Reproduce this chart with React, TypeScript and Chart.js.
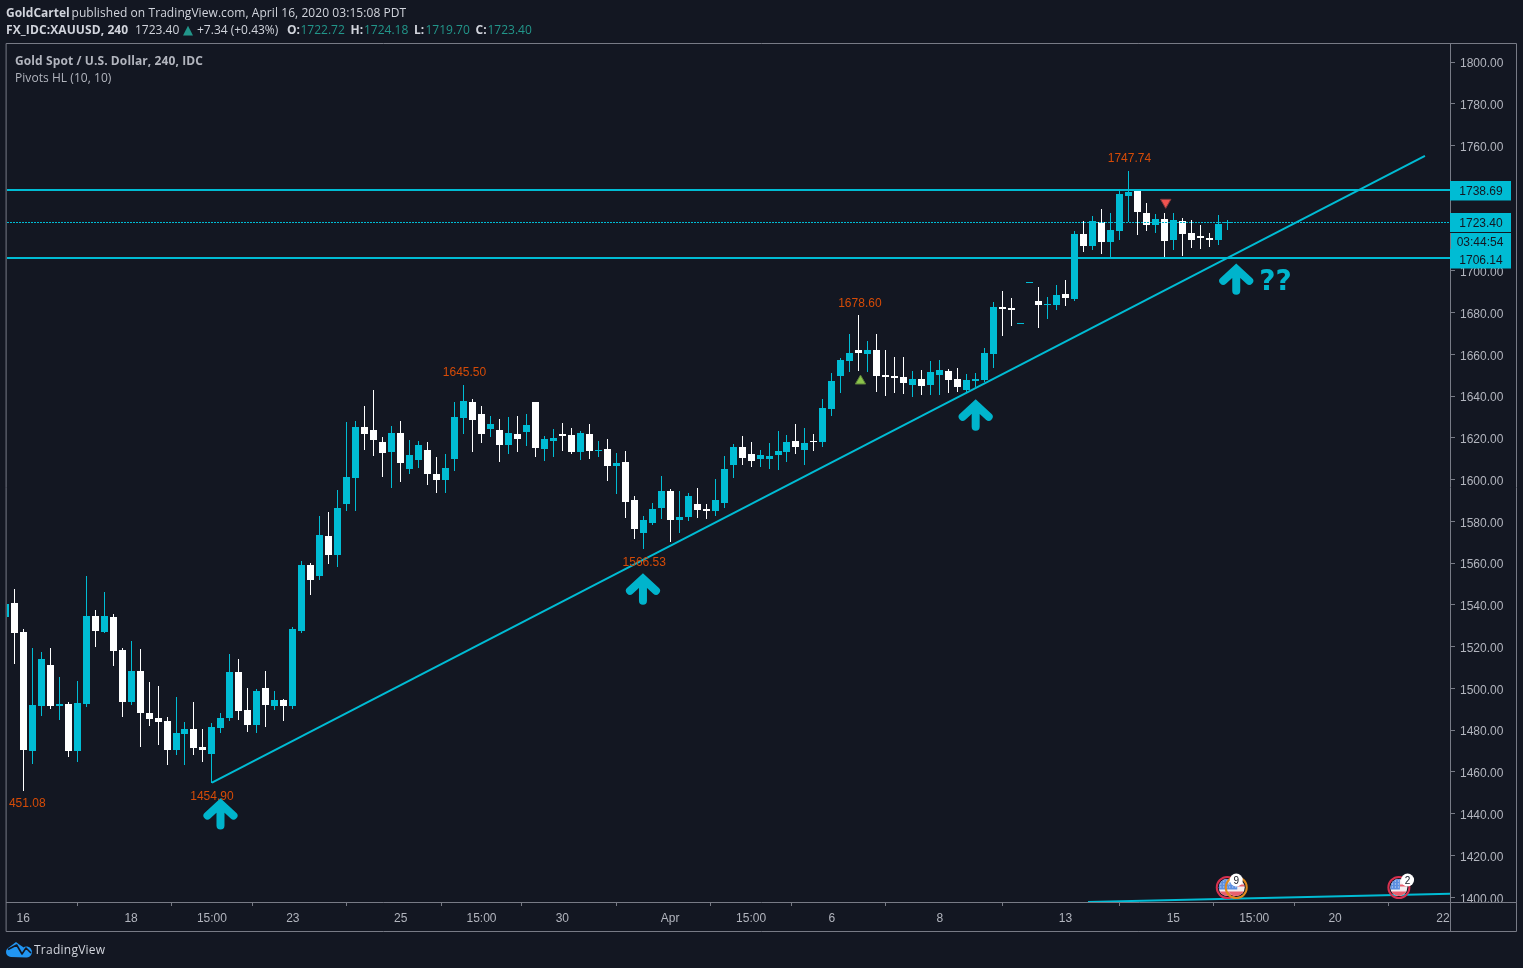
import React, { useEffect, useRef } from "react";
import { Chart, registerables } from "chart.js";

Chart.register(...registerables);

// Candles, oldest first (USD per ounce)
const opens = [1534.3,1541.0,1527.1,1470.2,1491.7,1511.3,1491.7,1492.7,1470.2,1492.7,1534.8,1527.1,1534.3,1518.5,1493.6,1508.5,1488.3,1485.9,1484.5,1470.6,1478.3,1480.7,1472.1,1468.7,1481.2,1485.9,1508.0,1489.8,1482.6,1500.3,1491.7,1494.6,1491.7,
1527.6,1559.2,1554.0,1573.1,1564.0,1588.4,1600.9,1625.3,1623.8,1618.1,1613.3,1622.4,1605.2,1609.5,1614.3,1602.8,1599.9,1610.0,1629.6,1637.2,1631.5,1624.3,1623.8,1616.7,1622.0,1622.9,1637.2,1614.7,1618.6,1622.0,1621.4,1613.3,1622.0,1613.8,1614.7,1606.6,1608.5,1590.3,1574.5,1579.3,1586.5,1594.6,1580.8,1582.2,1588.4,1586.0,1585.1,1588.9,1607.1,1615.7,1612.3,1610.0,1610.0,1611.9,1613.3,1618.6,1614.3,1618.6,1618.1,1633.9,1649.6,1656.8,1662.1,1660.2,1662.1,1650.1,1649.6,1649.2,1645.3,1648.2,1645.3,1650.1,1652.0,1648.2,1642.9,1647.3,1647.7,1660.2,1682.7,1682.2,1674.7,1694.3,1685.6,1683.6,1683.6,1688.9,1686.5,1717.7,1711.9,1723.4,1713.9,1719.1,1735.9,1738.3,1727.7,1722.0,1724.9,1714.8,1723.9,1718.2,1716.7,1715.8,1714.8,1722.72];
const highs = [1541.0,1547.7,1528.6,1519.5,1517.6,1519.5,1505.6,1493.6,1503.7,1553.9,1537.7,1546.3,1535.7,1519.5,1522.8,1519.0,1503.2,1501.3,1486.4,1496.0,1484.0,1493.6,1480.7,1483.6,1488.3,1516.6,1514.2,1500.3,1499.8,1508.5,1498.9,1495.0,1529.5,
1561.1,1560.2,1582.7,1584.6,1595.1,1627.7,1628.2,1635.3,1643.0,1620.5,1625.8,1628.2,1619.0,1618.6,1618.1,1610.9,1612.3,1637.2,1645.5,1638.7,1635.3,1630.5,1629.1,1630.1,1630.5,1631.5,1637.2,1621.0,1624.3,1627.2,1624.8,1623.4,1626.7,1618.6,1619.5,1612.8,1613.8,1592.2,1582.7,1588.9,1601.8,1595.6,1594.6,1593.7,1596.1,1588.4,1600.4,1611.4,1617.2,1621.0,1618.1,1614.3,1617.6,1623.4,1621.4,1626.7,1624.8,1622.0,1638.7,1651.1,1658.3,1669.8,1678.6,1666.4,1669.8,1662.1,1658.7,1658.7,1652.0,1652.5,1656.8,1657.3,1653.0,1653.5,1650.6,1651.1,1663.1,1685.1,1690.3,1687.0,1675.1,1694.7,1692.3,1687.5,1693.2,1695.6,1719.1,1723.9,1726.3,1729.6,1727.7,1738.3,1747.74,1738.3,1732.5,1727.2,1727.7,1727.7,1725.3,1724.4,1722.0,1718.2,1726.8,1724.18];
const lows = [1534.3,1511.8,1451.08,1463.9,1486.9,1490.3,1485.0,1467.3,1464.9,1491.2,1519.9,1526.6,1510.8,1486.4,1492.2,1472.1,1482.1,1473.0,1463.4,1468.2,1463.4,1468.2,1464.9,1454.9,1478.8,1484.5,1485.0,1479.2,1478.8,1481.6,1489.8,1484.5,1490.3,
1526.5,1544.9,1552.1,1559.7,1558.3,1585.1,1585.1,1614.3,1611.4,1601.4,1596.1,1598.9,1602.8,1605.6,1597.5,1593.7,1593.7,1604.2,1622.0,1613.3,1617.6,1620.5,1608.5,1612.3,1613.3,1616.2,1610.9,1609.0,1610.9,1613.8,1612.3,1609.5,1610.0,1610.9,1599.4,1593.2,1581.7,1571.6,1566.53,1578.4,1581.2,1570.2,1574.5,1580.3,1581.7,1581.2,1582.7,1586.5,1600.9,1607.1,1606.1,1606.1,1605.2,1604.7,1608.5,1612.3,1607.1,1613.8,1615.7,1630.5,1641.5,1651.6,1652.0,1651.6,1642.0,1640.1,1641.5,1641.0,1639.6,1640.5,1640.5,1640.5,1641.5,1642.0,1642.0,1644.4,1646.8,1653.5,1668.8,1673.6,1674.7,1694.3,1672.6,1676.9,1681.2,1683.2,1685.6,1709.1,1710.0,1708.1,1706.7,1714.8,1723.4,1717.2,1719.1,1718.2,1706.7,1710.0,1707.1,1711.0,1710.5,1711.5,1712.4,1719.70];
const closes = [1540.5,1526.6,1470.6,1492.2,1514.2,1491.7,1492.7,1470.2,1493.1,1534.8,1527.6,1534.8,1518.0,1493.6,1508.5,1488.3,1485.5,1484.0,1470.6,1478.8,1480.7,1471.6,1470.6,1481.6,1485.9,1508.0,1489.3,1482.6,1498.9,1492.2,1494.6,1491.7,1528.6,
1559.2,1552.1,1573.6,1564.0,1586.5,1601.4,1625.3,1622.0,1619.0,1612.8,1622.4,1608.0,1611.9,1616.7,1602.8,1599.9,1605.6,1630.1,1637.7,1628.6,1622.0,1626.7,1616.7,1622.4,1619.5,1626.2,1615.2,1619.5,1620.0,1621.0,1613.3,1622.4,1613.8,1614.3,1606.6,1608.0,1589.4,1576.4,1580.8,1586.0,1594.6,1580.8,1582.2,1592.2,1585.5,1585.1,1590.3,1605.2,1615.7,1610.4,1609.0,1611.9,1611.4,1613.8,1618.1,1615.7,1617.6,1618.1,1634.4,1647.3,1657.3,1660.7,1660.7,1662.1,1649.6,1649.2,1648.7,1646.3,1648.2,1644.9,1651.6,1652.5,1647.7,1644.4,1647.7,1648.2,1660.7,1682.7,1681.7,1681.2,1675.1,1694.7,1683.6,1684.1,1688.4,1687.0,1717.7,1711.9,1723.9,1713.9,1719.6,1736.8,1737.8,1728.2,1722.0,1724.9,1714.3,1724.4,1717.7,1714.8,1715.8,1714.8,1722.5,1723.40];

const xTickIndex = [2, 14, 23, 32, 44, 53, 62, 74, 83, 92, 104, 118, 130, 139, 148, 160];
const xTickLabels = ["16", "18", "15:00", "23", "25", "15:00", "30", "Apr", "15:00", "6", "8", "13", "15", "15:00", "20", "22"];
const yTicks = [1400,1420,1440,1460,1480,1500,1520,1540,1560,1580,1600,1620,1640,1660,1680,1700,1720,1740,1760,1780,1800];

const X_MIN = 0.19;
const X_MAX = 160.79;
const Y_MIN = 1397.7;
const Y_MAX = 1809.1;

const resistance = 1738.69;
const support = 1706.14;
const lastPrice = 1723.4;
const trendA = [{ x: 23, y: 1454.9 }, { x: 158, y: 1755 }];
const trendB = [{ x: 120.5, y: 1397.7 }, { x: 160.79, y: 1401.7 }];
const upMarker = [{ x: 95.18, y: 1647.2 }];
const downMarker = [{ x: 129.15, y: 1732.8 }];

const pivotLabels = [
  { i: 125, p: 1747.74, text: "1747.74", dy: -12, dx: 1 },
  { i: 95, p: 1678.6, text: "1678.60", dy: -12, dx: 1 },
  { i: 51, p: 1645.5, text: "1645.50", dy: -12, dx: 1 },
  { i: 71, p: 1566.53, text: "1566.53", dy: 13.5, dx: 1 },
  { i: 23, p: 1454.9, text: "1454.90", dy: 14, dx: 0 },
  { i: 2, p: 1451.08, text: "451.08", dy: 13.5, dx: 4 },
];
const arrowTips = [
  { x: 23.95, y: 1447.7 },
  { x: 70.97, y: 1555.4 },
  { x: 108, y: 1638.7 },
  { x: 137, y: 1703.8 },
];
const priceTags = [
  { text: "1738.69", p: 1738.69, dy: 2 },
  { text: "1723.40", p: 1723.4, dy: 2 },
  { text: "03:44:54", p: 1713.9, dy: 1 },
  { text: "1706.14", p: 1706.14, dy: 3 },
];
const events = [
  { x: 136, ring: "#d8314f", badge: "" },
  { x: 137, ring: "#e08a1e", badge: "9" },
  { x: 155.1, ring: "#d8314f", badge: "2" },
];

const CYAN = "#00bcd4";
const WHITE = "#ffffff";
const BG = "#131722";
const FRAME = "#787b86";
const TEXT = "#b2b5be";
const ORANGE = "#d64b07";
const UI = '"Open Sans", sans-serif';
const NUM = '"Liberation Sans", Arial, sans-serif';

const candleColors = opens.map((o, i) => (closes[i] >= o ? CYAN : WHITE));
const index = opens.map((_, i) => i);

const crispBars = {
  id: "crispBars",
  afterDatasetsUpdate(chart: any) {
    chart.data.datasets.forEach((ds: any, k: number) => {
      const pts = chart.getDatasetMeta(k).data;
      if (ds.type === "bar") {
        pts.forEach((el: any) => {
          el.x = Math.floor(el.x) + 0.5;
          const top = Math.round(Math.min(el.y, el.base));
          let bot = Math.round(Math.max(el.y, el.base));
          if (bot === top) bot = top + 1;
          el.y = top;
          el.base = bot;
          el.height = bot - top;
        });
      } else if (ds.snap === "half") {
        pts.forEach((el: any) => { el.x = Math.round(el.x); el.y = Math.round(el.y) + 0.5; });
      } else if (ds.snap === "whole") {
        pts.forEach((el: any) => { el.y = Math.round(el.y); });
      }
    });
  },
};

const flag = (c: CanvasRenderingContext2D, cx: number, cy: number) => {
  c.save();
  c.beginPath();
  c.arc(cx, cy, 8.5, 0, Math.PI * 2);
  c.clip();
  c.fillStyle = "#f4eef0";
  c.fillRect(cx - 9, cy - 9, 18, 18);
  c.fillStyle = "#e9606e";
  c.fillRect(cx - 9, cy + 4, 18, 6);
  c.fillRect(cx + 1, cy - 3, 9, 2);
  c.fillStyle = "#5b8fe0";
  c.fillRect(cx - 9, cy - 9, 10, 11);
  c.fillStyle = "#dfe8f8";
  for (let a = -7; a < 1; a += 3) for (let b = -7; b < 2; b += 3) c.fillRect(cx + a, cy + b, 1, 1);
  c.restore();
};

const overlay = {
  id: "overlay",
  beforeDraw(chart: any) {
    const c = chart.ctx;
    c.save();
    c.fillStyle = BG;
    c.fillRect(0, 0, chart.width, chart.height);
    c.restore();
  },
  afterDraw(chart: any) {
    const c: CanvasRenderingContext2D = chart.ctx;
    const sx = chart.scales.x;
    const sy = chart.scales.y;
    const area = chart.chartArea;
    c.save();

    // pivot values
    c.font = `12px ${NUM}`;
    c.textAlign = "center";
    c.textBaseline = "middle";
    c.fillStyle = ORANGE;
    pivotLabels.forEach((l) => {
      c.fillText(l.text, sx.getPixelForValue(l.i) + l.dx, sy.getPixelForValue(l.p) + l.dy);
    });

    // hand-drawn arrows
    c.strokeStyle = "#00b4cc";
    c.lineWidth = 8;
    c.lineCap = "round";
    c.lineJoin = "miter";
    arrowTips.forEach((a) => {
      const x = sx.getPixelForValue(a.x);
      const y = sy.getPixelForValue(a.y);
      c.beginPath();
      c.moveTo(x - 13, y + 18);
      c.lineTo(x, y + 6);
      c.lineTo(x + 13, y + 18);
      c.moveTo(x, y + 8);
      c.lineTo(x, y + 28);
      c.stroke();
    });
    c.fillStyle = "#00b4cc";
    c.font = 'bold 28px "DejaVu Sans", sans-serif';
    c.textAlign = "left";
    c.textBaseline = "alphabetic";
    const last = arrowTips[arrowTips.length - 1];
    c.fillText("??", sx.getPixelForValue(last.x) + 23, sy.getPixelForValue(last.y) + 27);

    // economic event badges
    const evY = area.bottom - 14.5;
    events.forEach((e) => {
      const x = sx.getPixelForValue(e.x);
      flag(c, x, evY);
      c.beginPath();
      c.arc(x, evY, 10.5, 0, Math.PI * 2);
      c.strokeStyle = e.ring;
      c.lineWidth = 2;
      c.stroke();
    });
    events.forEach((e, k) => {
      if (!e.badge) return;
      const x = sx.getPixelForValue(e.x) + (k === 2 ? 8.7 : 0);
      c.beginPath();
      c.arc(x, evY - 7.5, 6.5, 0, Math.PI * 2);
      c.fillStyle = "#ffffff";
      c.fill();
      c.fillStyle = "#131722";
      c.font = `10px ${NUM}`;
      c.textAlign = "center";
      c.textBaseline = "middle";
      c.fillText(e.badge, x, evY - 6.5);
    });

    // frame
    c.strokeStyle = FRAME;
    c.lineWidth = 1;
    c.beginPath();
    c.rect(6.5, 43.5, 1510, 888);
    c.moveTo(area.right + 0.5, 43.5);
    c.lineTo(area.right + 0.5, 931.5);
    c.moveTo(6.5, area.bottom + 0.5);
    c.lineTo(1516.5, area.bottom + 0.5);
    c.stroke();

    // price tags on the right axis
    c.font = `12px ${NUM}`;
    c.textAlign = "center";
    c.textBaseline = "middle";
    priceTags.forEach((t, k) => {
      const y = Math.round(sy.getPixelForValue(t.p));
      c.fillStyle = CYAN;
      const inset = k === 2 ? 1 : 0;
      c.fillRect(area.right + inset, y - 9, 61 - inset, 19.5);
      c.fillStyle = "#131722";
      c.fillText(t.text, area.right + (k === 2 ? 30 : 31), y + t.dy);
    });
    const sep = Math.round(sy.getPixelForValue(lastPrice)) + 10;
    c.fillStyle = "#131722";
    c.fillRect(area.right, sep, 61, 1);

    // TradingView mark
    c.fillStyle = "#2196f3";
    c.beginPath();
    c.arc(11, 952, 5, Math.PI / 2, Math.PI * 1.25);
    c.lineTo(16, 942);
    c.lineTo(20, 945);
    c.lineTo(23, 947);
    c.arc(26.5, 952, 5.5, -Math.PI * 0.7, Math.PI / 2);
    c.closePath();
    c.fill();
    c.strokeStyle = BG;
    c.lineWidth = 1.6;
    c.lineCap = "butt";
    c.lineJoin = "round";
    c.beginPath();
    c.moveTo(8, 949.5);
    c.lineTo(16.7, 945);
    c.lineTo(22, 954);
    c.lineTo(26, 948);
    c.lineTo(31, 953);
    c.stroke();
    c.restore();
  },
};

const divBase: React.CSSProperties = {
  position: "absolute",
  whiteSpace: "nowrap",
  fontFamily: UI,
  fontSize: 12,
  lineHeight: "16px",
  color: "#d1d4dc",
};
const green: React.CSSProperties = { color: "#22968a" };

const seg = (left: number, text: string, extra?: React.CSSProperties) => (
  <div style={{ ...divBase, left, top: 22, ...extra }}>{text}</div>
);

export default function App() {
  const ref = useRef<HTMLCanvasElement>(null);
  useEffect(() => {
    document.body.style.margin = "0";
    document.body.style.background = BG;
    const chart = new Chart(ref.current!, {
      type: "bar",
      plugins: [crispBars, overlay],
      data: {
        datasets: [
          {
            type: "bar",
            label: "wicks",
            data: index.map((i) => ({ x: i, y: [lows[i], highs[i]] })),
            backgroundColor: candleColors,
            barThickness: 1,
            grouped: false,
            inflateAmount: 0,
            order: 5,
          },
          {
            type: "bar",
            label: "bodies",
            data: index.map((i) => ({ x: i, y: [opens[i], closes[i]] })),
            backgroundColor: candleColors,
            barThickness: 7,
            grouped: false,
            inflateAmount: 0,
            order: 4,
          },
          {
            type: "line",
            label: "last",
            snap: "half",
            data: [{ x: X_MIN, y: lastPrice }, { x: X_MAX, y: lastPrice }],
            borderColor: CYAN,
            borderWidth: 1,
            borderDash: [2, 1],
            pointRadius: 0,
            order: 3,
          },
          {
            type: "line",
            label: "resistance",
            snap: "whole",
            data: [{ x: X_MIN, y: resistance }, { x: X_MAX, y: resistance }],
            borderColor: CYAN,
            borderWidth: 2,
            pointRadius: 0,
            order: 2,
          },
          {
            type: "line",
            label: "support",
            snap: "whole",
            data: [{ x: X_MIN, y: support }, { x: X_MAX, y: support }],
            borderColor: CYAN,
            borderWidth: 2,
            pointRadius: 0,
            order: 2,
          },
          {
            type: "line",
            label: "trend",
            data: trendA,
            borderColor: CYAN,
            borderWidth: 2,
            pointRadius: 0,
            order: 1,
          },
          {
            type: "line",
            label: "trend2",
            data: trendB,
            borderColor: CYAN,
            borderWidth: 2,
            pointRadius: 0,
            order: 1,
          },
          {
            type: "line",
            label: "pivot up",
            data: upMarker,
            showLine: false,
            pointStyle: "triangle",
            pointRadius: 6,
            backgroundColor: "#8bc34a",
            borderColor: "#5b7d3a",
            borderWidth: 1,
            order: 0,
          },
          {
            type: "line",
            label: "pivot down",
            data: downMarker,
            showLine: false,
            pointStyle: "triangle",
            pointRotation: 180,
            pointRadius: 6,
            backgroundColor: "#ef5350",
            borderColor: "#8a3a3d",
            borderWidth: 1,
            order: 0,
          },
        ] as any,
      },
      options: {
        responsive: false,
        animation: false,
        devicePixelRatio: 1,
        layout: { padding: { left: 6, top: 43, right: 7, bottom: 37 } },
        plugins: { legend: { display: false }, tooltip: { enabled: false }, title: { display: false } },
        scales: {
          x: {
            type: "linear",
            offset: false,
            min: X_MIN,
            max: X_MAX,
            afterBuildTicks(scale: any) {
              scale.ticks = xTickIndex.map((value) => ({ value }));
            },
            afterFit(scale: any) {
              scale.height = 29;
            },
            grid: { display: true, drawTicks: true, tickLength: 4, tickColor: FRAME, drawOnChartArea: false },
            border: { display: false },
            ticks: {
              autoSkip: false,
              maxRotation: 0,
              color: TEXT,
              font: { family: NUM, size: 12 },
              padding: 5,
              callback(v: any) {
                const k = xTickIndex.indexOf(v);
                return k >= 0 ? xTickLabels[k] : "";
              },
            },
          },
          y: {
            type: "linear",
            position: "right",
            min: Y_MIN,
            max: Y_MAX,
            afterBuildTicks(scale: any) {
              scale.ticks = yTicks.map((value) => ({ value }));
            },
            afterFit(scale: any) {
              scale.width = 66;
            },
            grid: { display: true, drawOnChartArea: false, drawTicks: true, tickLength: 5, tickColor: FRAME },
            border: { display: false },
            ticks: {
              autoSkip: false,
              color: TEXT,
              font: { family: NUM, size: 12 },
              padding: 5,
              labelOffset: 2,
              callback(v: any) {
                return Number(v).toFixed(2);
              },
            },
          },
        },
      },
    } as any);
    return () => chart.destroy();
  }, []);

  const bold: React.CSSProperties = { fontWeight: 700 };
  return (
    <div style={{ position: "absolute", left: 0, top: 0, width: 1523, height: 968, background: BG, overflow: "hidden" }}>
      <canvas ref={ref} width={1523} height={968} style={{ position: "absolute", left: 0, top: 0, width: 1523, height: 968 }} />
      <div style={{ ...divBase, left: 6, top: 5, fontWeight: 700 }}>GoldCartel</div>
      <div style={{ ...divBase, left: 71.5, top: 5, letterSpacing: 0.07 }}>published on TradingView.com, April 16, 2020 03:15:08 PDT</div>
      {seg(6, "FX_IDC:XAUUSD, 240", { ...bold, letterSpacing: 0.1 })}
      {seg(135, "1723.40")}
      {seg(183, "▲", { ...green, fontFamily: '"DejaVu Sans", sans-serif', fontSize: 13 })}
      {seg(197, "+7.34 (+0.43%)")}
      {seg(287, "O:", bold)}
      {seg(300.5, "1722.72", green)}
      {seg(350.5, "H:", bold)}
      {seg(364, "1724.18", green)}
      {seg(414, "L:", bold)}
      {seg(425.5, "1719.70", green)}
      {seg(475.5, "C:", bold)}
      {seg(487.5, "1723.40", green)}
      <div style={{ ...divBase, left: 15, top: 53, color: TEXT, fontWeight: 700, letterSpacing: 0.1 }}>Gold Spot / U.S. Dollar, 240, IDC</div>
      <div style={{ ...divBase, left: 15, top: 70, color: TEXT, letterSpacing: 0.05 }}>Pivots HL (10, 10)</div>
      <div style={{ ...divBase, left: 34, top: 942, letterSpacing: 0.25 }}>TradingView</div>
    </div>
  );
}
